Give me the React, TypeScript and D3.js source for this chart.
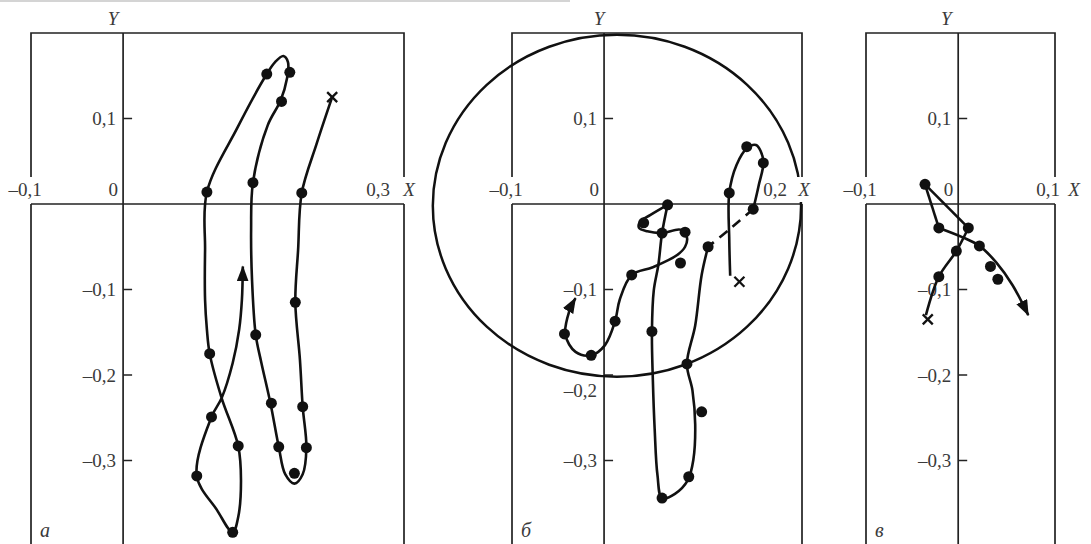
import React from "react";
import * as d3 from "d3";

type Pt = [number, number];

// shared axes
const yDomain: [number, number] = [-0.4, 0.2];
const yTicks = [0.1, -0.1, -0.2, -0.3];

// panel а
const xTicksA = [-0.1, 0, 0.3];
const trackA: Pt[] = [
  [0.227, 0.125], [0.210, 0.070], [0.194, 0.013], [0.190, -0.054], [0.187, -0.115],
  [0.192, -0.182], [0.195, -0.237], [0.199, -0.285], [0.195, -0.316], [0.186, -0.327],
  [0.176, -0.316], [0.169, -0.284], [0.160, -0.233], [0.150, -0.185], [0.144, -0.153],
  [0.140, -0.089], [0.139, -0.030], [0.141, 0.025], [0.157, 0.092], [0.171, 0.121],
  [0.178, 0.147], [0.179, 0.166], [0.174, 0.173], [0.165, 0.166], [0.156, 0.152],
  [0.124, 0.089], [0.091, 0.014], [0.089, -0.054], [0.089, -0.112], [0.091, -0.147],
  [0.094, -0.175], [0.107, -0.227], [0.125, -0.283], [0.128, -0.323], [0.125, -0.366],
  [0.119, -0.384], [0.102, -0.358], [0.080, -0.318], [0.096, -0.249], [0.107, -0.227],
  [0.119, -0.186], [0.126, -0.147], [0.129, -0.112], [0.130, -0.073],
];
const dotsA: Pt[] = [
  [0.194, 0.013], [0.187, -0.115], [0.195, -0.237], [0.199, -0.285], [0.186, -0.315],
  [0.169, -0.284], [0.161, -0.233], [0.144, -0.153], [0.141, 0.025], [0.172, 0.120],
  [0.181, 0.154], [0.156, 0.152], [0.091, 0.014], [0.094, -0.175], [0.096, -0.249],
  [0.125, -0.283], [0.080, -0.318], [0.119, -0.384],
];
const startA: Pt = [0.227, 0.125];

// panel б
const xTicksB = [-0.1, 0, 0.2];
const trackB1: Pt[] = [
  [0.137, -0.084], [0.136, -0.042], [0.136, 0.013], [0.144, 0.046], [0.155, 0.065],
  [0.165, 0.069], [0.173, 0.051], [0.168, 0.022], [0.162, -0.006],
];
const trackB2: Pt[] = [[0.162, -0.006], [0.138, -0.028], [0.113, -0.050]];
const trackB3: Pt[] = [
  [0.113, -0.050], [0.106, -0.083], [0.099, -0.142], [0.090, -0.187], [0.096, -0.218],
  [0.099, -0.258], [0.097, -0.299], [0.091, -0.323], [0.077, -0.339], [0.063, -0.344],
  [0.058, -0.317], [0.055, -0.264], [0.053, -0.206], [0.052, -0.149], [0.054, -0.101],
  [0.059, -0.071], [0.063, -0.034], [0.069, -0.001],
];
const trackB4: Pt[] = [
  [0.069, -0.001], [0.050, -0.013], [0.039, -0.021], [0.038, -0.028], [0.047, -0.032],
  [0.063, -0.034], [0.083, -0.030], [0.090, -0.039], [0.088, -0.050], [0.079, -0.060],
  [0.053, -0.074], [0.030, -0.083], [0.017, -0.112], [0.012, -0.137], [0.001, -0.165],
  [-0.014, -0.177], [-0.031, -0.173], [-0.042, -0.153], [-0.038, -0.126], [-0.031, -0.110],
];
const dotsB: Pt[] = [
  [0.136, 0.013], [0.155, 0.067], [0.173, 0.048], [0.162, -0.006], [0.113, -0.050],
  [0.090, -0.187], [0.106, -0.243], [0.092, -0.319], [0.063, -0.344], [0.052, -0.149],
  [0.069, -0.001], [0.043, -0.022], [0.063, -0.034], [0.088, -0.033], [0.083, -0.069],
  [0.030, -0.083], [0.012, -0.137], [-0.014, -0.177], [-0.043, -0.152],
];
const startB: Pt = [0.147, -0.091];
const circleCenterB: Pt = [0.014, -0.002];
const circleRadiusB = 0.2;

// panel в
const xTicksC = [-0.1, 0, 0.1];
const trackC1: Pt[] = [[-0.035, -0.130], [-0.021, -0.085], [-0.002, -0.055], [0.011, -0.028]];
const trackC2: Pt[] = [[0.011, -0.028], [-0.036, 0.023]];
const trackC3: Pt[] = [[-0.036, 0.023], [-0.021, -0.028]];
const trackC4: Pt[] = [
  [-0.021, -0.028], [0.005, -0.039], [0.023, -0.049], [0.041, -0.068], [0.059, -0.095], [0.076, -0.130],
];
const dotsC: Pt[] = [
  [-0.036, 0.023], [-0.021, -0.028], [0.011, -0.028], [0.023, -0.049], [-0.002, -0.055],
  [-0.021, -0.085], [0.035, -0.073], [0.043, -0.088],
];
const startC: Pt = [-0.033, -0.135];

const W = 1091;
const H = 544;
const FONT = "'Liberation Serif', 'Times New Roman', serif";
const INK = "#111";
const TXT = "#3a3a3a";

const fmt = (v: number) => {
  if (v === 0) return "0";
  const s = Math.abs(v).toFixed(1).replace(".", ",");
  return v < 0 ? "\u2013" + s : s;
};

type Seg = { pts: Pt[]; dashed?: boolean; arrow?: boolean };

function Panel(props: {
  name: string;
  xDomain: [number, number];
  xRange: [number, number];
  xTicks: number[];
  lastEndDx: number;
  xNameDx: number;
  yNameDx: number;
  yLabelShift?: Record<string, number>;
  segs: Seg[];
  dots: Pt[];
  start: Pt;
  circle?: { c: Pt; r: number };
}) {
  const { xDomain, xRange, xTicks, segs, dots, start, circle } = props;
  const x = d3.scaleLinear().domain(xDomain).range(xRange);
  const y = d3.scaleLinear().domain(yDomain).range([546, 33]);
  const [L, R] = xRange;
  const top = y(0.2);
  const x0 = x(0);
  const y0 = y(0);
  const gapTop = y0 - 27;

  const line = d3
    .line<Pt>()
    .x((d) => x(d[0]))
    .y((d) => y(d[1]))
    .curve(d3.curveCatmullRom.alpha(0.5));

  const frame = `M${L},${H + 2}V${y0}M${L},${gapTop}V${top}H${R}V${gapTop}M${R},${y0}V${H + 2}`;
  const last = xTicks[xTicks.length - 1];

  return (
    <g>
      <path d={frame} fill="none" stroke="#222" strokeWidth={1.7} />
      <line x1={L} x2={R} y1={y0} y2={y0} stroke="#222" strokeWidth={1.7} />
      <line x1={x0} x2={x0} y1={top} y2={H + 2} stroke="#222" strokeWidth={1.7} />
      {yTicks.map((t) => (
        <g key={t}>
          <line x1={x0} x2={x0 + 9} y1={y(t)} y2={y(t)} stroke="#222" strokeWidth={1.5} />
          <text
            x={x0 - 7}
            y={y(t) + (props.yLabelShift?.[String(t)] ?? 0)}
            dy="0.35em"
            textAnchor="end"
            fontFamily={FONT}
            fontSize={19}
            fill={TXT}
          >
            {fmt(t)}
          </text>
        </g>
      ))}
      {xTicks.map((t) => {
        let tx = x(t);
        let anchor = "middle";
        if (t < 0) tx = x(t) - 6;
        else if (t === 0) {
          tx = x0 - 5;
          anchor = "end";
        } else if (t === last) {
          tx = R + props.lastEndDx;
          anchor = "end";
        }
        return (
          <text key={t} x={tx} y={y0 - 8} textAnchor={anchor} fontFamily={FONT} fontSize={19} fill={TXT}>
            {fmt(t)}
          </text>
        );
      })}
      {circle && (
        <>
          <ellipse
            cx={x(circle.c[0])}
            cy={y(circle.c[1])}
            rx={x(circle.r) - x(0)}
            ry={y(0) - y(circle.r)}
            fill="none"
            stroke={INK}
            strokeWidth={2.5}
          />
          <rect x={R - 9} y={gapTop} width={22} height={y0 - gapTop - 2} fill="#fff" />
        </>
      )}
      <text x={R + props.xNameDx} y={y0 - 8} textAnchor="middle" fontFamily={FONT} fontSize={19} fontStyle="italic" fill={TXT}>
        X
      </text>
      <text x={x0 + props.yNameDx} y={25} textAnchor="middle" fontFamily={FONT} fontSize={19} fontStyle="italic" fill={TXT}>
        Y
      </text>
      <text x={L + 9} y={537} fontFamily={FONT} fontSize={20} fontStyle="italic" fill={TXT}>
        {props.name}
      </text>
      {segs.map((s, i) => (
        <path
          key={i}
          d={line(s.pts) ?? ""}
          fill="none"
          stroke={INK}
          strokeWidth={2.6}
          strokeLinejoin="round"
          strokeDasharray={s.dashed ? "10 7" : undefined}
          markerEnd={s.arrow ? "url(#arrowHead)" : undefined}
        />
      ))}
      {dots.map((d, i) => (
        <circle key={i} cx={x(d[0])} cy={y(d[1])} r={5.5} fill={INK} />
      ))}
      <g stroke={INK} strokeWidth={2.3}>
        <line x1={x(start[0]) - 5} x2={x(start[0]) + 5} y1={y(start[1]) - 5} y2={y(start[1]) + 5} />
        <line x1={x(start[0]) - 5} x2={x(start[0]) + 5} y1={y(start[1]) + 5} y2={y(start[1]) - 5} />
      </g>
    </g>
  );
}

export default function App() {
  return (
    <svg
      width={W}
      height={H}
      viewBox={`0 0 ${W} ${H}`}
      style={{ position: "absolute", left: 0, top: 0, background: "#fff" }}
    >
      <defs>
        <marker
          id="arrowHead"
          viewBox="0 0 16 12"
          refX={15}
          refY={6}
          markerWidth={16}
          markerHeight={12}
          markerUnits="userSpaceOnUse"
          orient="auto"
        >
          <path d="M0,0L16,6L0,12Z" fill={INK} />
        </marker>
      </defs>
      <rect x={0} y={0} width={W} height={H} fill="#fff" />
      <rect x={0} y={0} width={570} height={2} fill="#d4d4d4" />
      <Panel
        name="а"
        xDomain={[-0.1, 0.305]}
        xRange={[31, 404]}
        xTicks={xTicksA}
        lastEndDx={-14}
        xNameDx={5}
        yNameDx={-10}
        segs={[{ pts: trackA, arrow: true }]}
        dots={dotsA}
        start={startA}
      />
      <Panel
        name="б"
        xDomain={[-0.1, 0.215]}
        xRange={[512, 802]}
        xTicks={xTicksB}
        lastEndDx={-15}
        xNameDx={2}
        yNameDx={-5}
        yLabelShift={{ "-0.2": 15 }}
        segs={[
          { pts: trackB1 },
          { pts: trackB2, dashed: true },
          { pts: trackB3 },
          { pts: trackB4, arrow: true },
        ]}
        dots={dotsB}
        start={startB}
        circle={{ c: circleCenterB, r: circleRadiusB }}
      />
      <Panel
        name="в"
        xDomain={[-0.1, 0.105]}
        xRange={[866, 1055]}
        xTicks={xTicksC}
        lastEndDx={5}
        xNameDx={19}
        yNameDx={-12}
        segs={[{ pts: trackC1 }, { pts: trackC2 }, { pts: trackC3 }, { pts: trackC4, arrow: true }]}
        dots={dotsC}
        start={startC}
      />
    </svg>
  );
}
